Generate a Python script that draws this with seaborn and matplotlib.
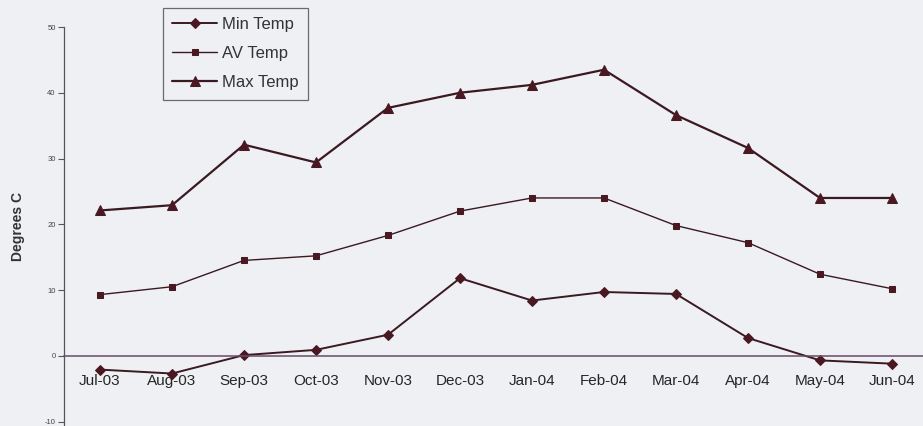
import matplotlib
matplotlib.use("Agg")
import matplotlib.pyplot as plt
import seaborn as sns
import pandas as pd

months = ["Jul-03", "Aug-03", "Sep-03", "Oct-03", "Nov-03", "Dec-03",
          "Jan-04", "Feb-04", "Mar-04", "Apr-04", "May-04", "Jun-04"]
min_temp = [-2.1, -2.7, 0.1, 0.9, 3.2, 11.8, 8.4, 9.7, 9.4, 2.7, -0.7, -1.2]
av_temp = [9.3, 10.5, 14.5, 15.2, 18.3, 22.0, 24.0, 24.0, 19.8, 17.2, 12.4, 10.2]
max_temp = [22.1, 22.9, 32.1, 29.4, 37.7, 40.0, 41.2, 43.5, 36.6, 31.6, 24.0, 24.0]
y_ticks = [-10, 0, 10, 20, 30, 40, 50]

sns.set_theme(style="white")
plt.rcParams["font.family"] = ["Liberation Sans", "DejaVu Sans"]

bg = "#eef0f3"
line_col = "#3a1a20"
mk_col = "#4a1822"

fig = plt.figure(figsize=(9.23, 4.26), dpi=100, facecolor=bg)
ax = fig.add_axes([64 / 923, 0, 864 / 923, 399 / 426])
ax.set_facecolor(bg)

df = pd.DataFrame({"month": months, "Min Temp": min_temp,
                   "AV Temp": av_temp, "Max Temp": max_temp})

specs = [("Min Temp", "D", 5.0, 1.4),
         ("AV Temp", "s", 5.0, 1.0),
         ("Max Temp", "^", 6.5, 1.6)]
for name, mk, ms, lw in specs:
    sns.lineplot(data=df, x="month", y=name, ax=ax, color=line_col,
                 marker=mk, markersize=ms, markerfacecolor=mk_col,
                 markeredgecolor=mk_col, linewidth=lw, label=name, sort=False)

ax.set_xlim(-0.5, len(months) - 0.5)
ax.set_ylim(-10.68, 50)
ax.set_yticks(y_ticks)
ax.set_yticklabels([str(v) for v in y_ticks], fontsize=5.5, color="#444444")

ax.set_xticks([i + 0.5 for i in range(len(months) - 1)], minor=False)
ax.set_xticklabels([])
ax.set_xticks(range(len(months)), minor=True)
ax.set_xticklabels(months, minor=True, fontsize=11, color="#3a3a3a")
ax.tick_params(axis="x", which="major", direction="out", length=4,
               width=0.8, color="#555555")
ax.tick_params(axis="x", which="minor", length=0, pad=13)
ax.tick_params(axis="y", direction="out", length=4, width=0.8,
               color="#555555", pad=2, left=True)

for s in ["top", "right"]:
    ax.spines[s].set_visible(False)
ax.spines["left"].set_color("#555555")
ax.spines["left"].set_linewidth(0.9)
ax.spines["bottom"].set_position(("data", 0))
ax.spines["bottom"].set_color("#6a4a68")
ax.spines["bottom"].set_linewidth(1.1)

ax.set_xlabel("")
ax.set_ylabel("Degrees C", fontsize=10, fontweight="bold", color="#333333",
              labelpad=14)

leg = ax.legend(loc="upper left", bbox_to_anchor=(163 / 923, 1 - 8 / 426),
                bbox_transform=fig.transFigure, borderaxespad=0,
                fontsize=12, frameon=True, fancybox=False, shadow=False,
                handlelength=2.7, handletextpad=0.3, labelspacing=0.84,
                borderpad=0.56)
leg.get_frame().set_edgecolor("#6a6a6a")
leg.get_frame().set_facecolor(bg)
leg.get_frame().set_linewidth(0.9)
leg.get_frame().set_alpha(1)
for t in leg.get_texts():
    t.set_color("#333333")

fig.savefig("out.png", dpi=100, facecolor=bg)
